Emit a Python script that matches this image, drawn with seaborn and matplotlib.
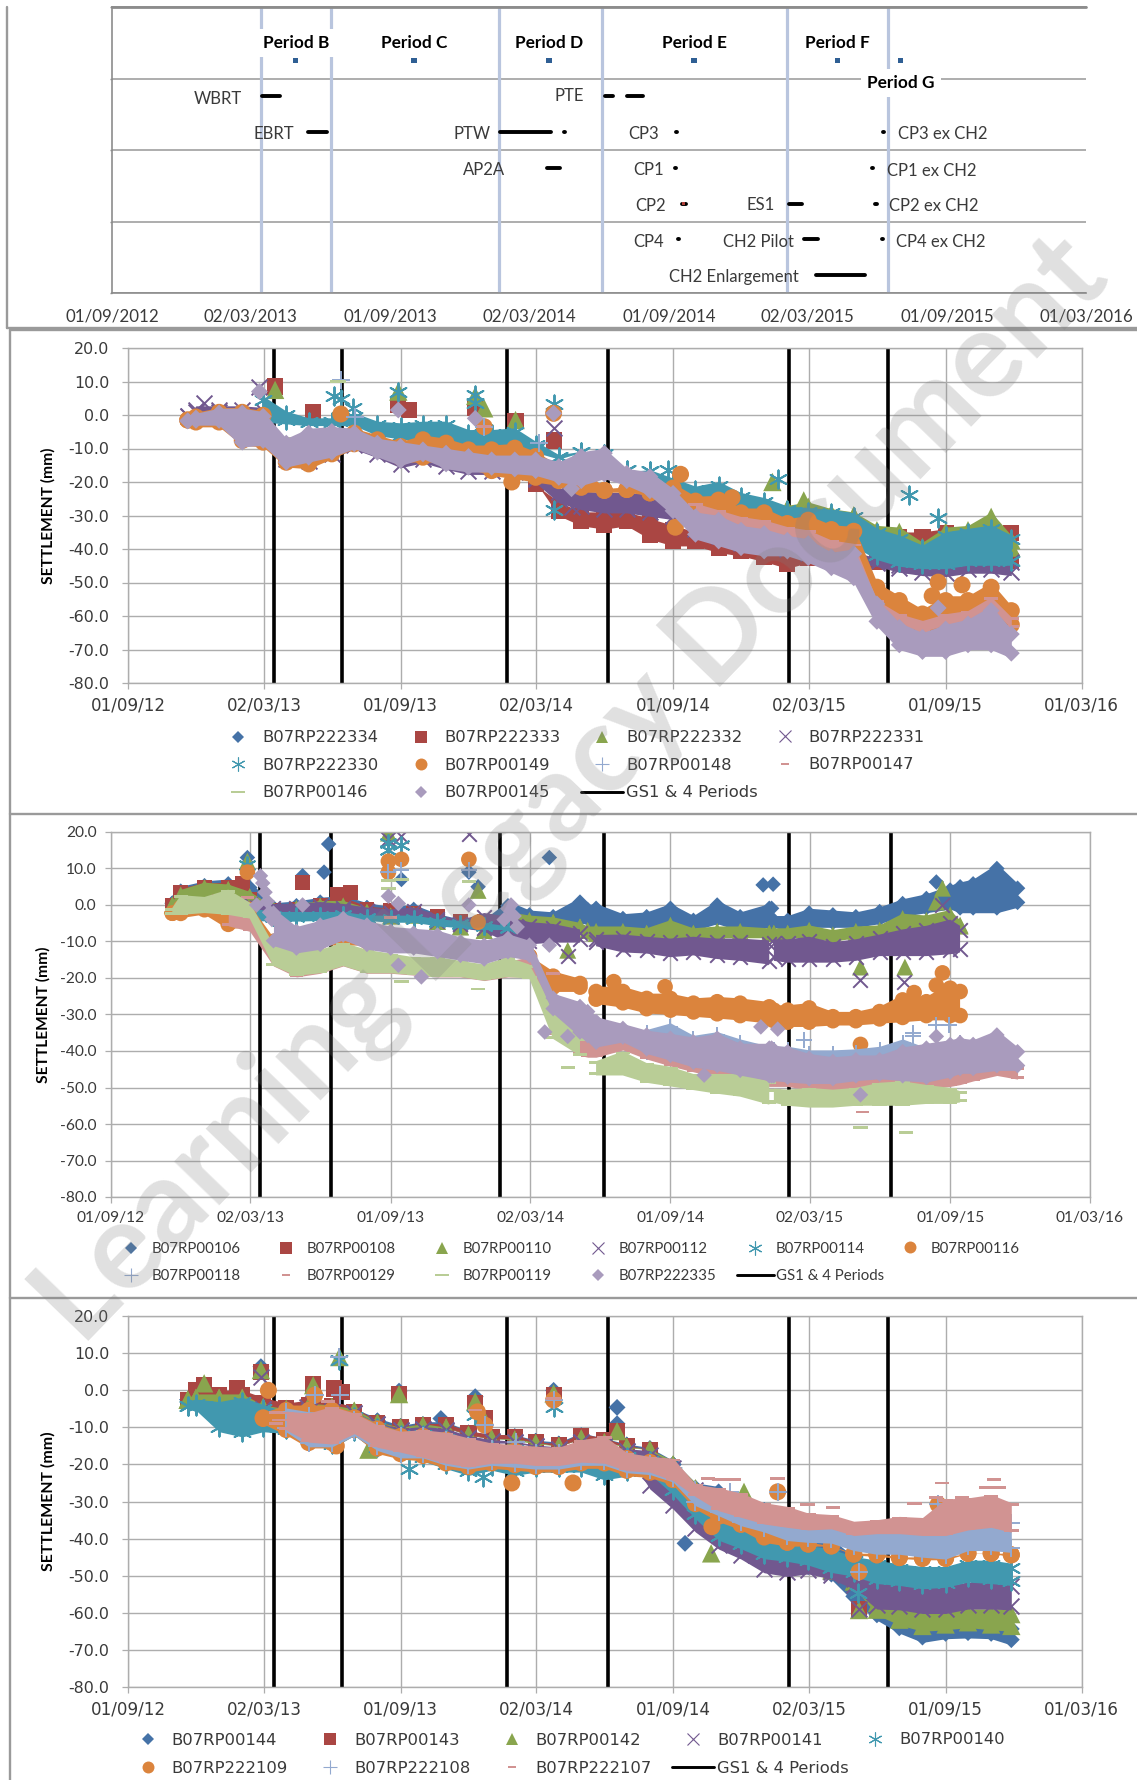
import numpy as np
import pandas as pd
import matplotlib
matplotlib.use("Agg")
import matplotlib.pyplot as plt
from matplotlib.lines import Line2D
from matplotlib.path import Path
import seaborn as sns

_ = np.nan
# x values are days since 01/09/2012
X_TICKS = [0, 182, 365, 547, 730, 912, 1095, 1277]
X_LABELS_LONG = ["01/09/2012", "02/03/2013", "01/09/2013", "02/03/2014", "01/09/2014", "02/03/2015", "01/09/2015", "01/03/2016"]
X_LABELS = ["01/09/12", "02/03/13", "01/09/13", "02/03/14", "01/09/14", "02/03/15", "01/09/15", "01/03/16"]
Y_TICKS = [20, 10, 0, -10, -20, -30, -40, -50, -60, -70, -80]
PERIOD_DAYS = [195, 287, 507, 643, 885, 1018]

# ---------- programme panel ----------
PERIOD_NAMES = ["Period B", "Period C", "Period D", "Period E", "Period F", "Period G"]
PERIOD_MID = [241, 396, 573, 763, 951, 1034]
PERIOD_ROW = [3.25, 3.25, 3.25, 3.25, 3.25, 3.25]
ACT_START = [197, 647, 675, 257, 509, 593, 740, 1011, 570, 738, 997, 747, 887, 1001, 742, 907, 1009.5, 923]
ACT_END   = [220, 657, 696, 282, 575, 594, 741, 1012, 587, 739, 998, 752, 904, 1003, 743, 925, 1011.5, 987]
ACT_ROW   = [2.75, 2.75, 2.75, 2.25, 2.25, 2.25, 2.25, 2.25, 1.75, 1.75, 1.75, 1.25, 1.25, 1.25, 0.75, 0.75, 0.75, 0.25]
ACT_NAMES = ["WBRT", "PTE", "EBRT", "PTW", "CP3", "CP3 ex CH2", "AP2A", "CP1", "CP1 ex CH2", "CP2", "ES1", "CP2 ex CH2", "CP4", "CH2 Pilot", "CP4 ex CH2", "CH2 Enlargement"]
ACT_NAME_X = [139, 599, 212, 472, 697, 1089, 488, 704, 1075, 706, 851, 1077, 704, 847, 1086, 815]
ACT_NAME_ROW = [2.72, 2.75, 2.22, 2.22, 2.22, 2.22, 1.72, 1.72, 1.71, 1.21, 1.23, 1.21, 0.72, 0.71, 0.71, 0.23]

# ---------- panel 1 ----------
P1_DAYS = [80,91,122,153,181,212,242,273,303,334,365,395,426,456,487,518,546,577,607,638,668,699,730,760,791,821,852,883,911,942,972,1003,1033,1064,1095,1125,1156,1183]
P1_145_T = [-0.5,1.5,3,3,2,-6,-3,-2.5,-3,-6,-7,-8,-9,-10,-11,-11,-11,-13,-10,-9,-15,-16,-21,-28,-29,-32,-33,-35,-36,-40,-39,-54,-61,-64,-61.5,-60,-56,-63]
P1_145_B = [-3,-4,-4,-10.5,-10,-16.5,-15,-13.5,-11,-13.5,-16,-14,-17,-18,-18,-18.5,-19,-21,-22,-20,-22,-25,-31,-38,-40,-42,-43,-43,-45,-48,-51,-64,-71,-73,-73,-71,-71,-73.5]
P1_149_T = [-0.5,1.8,3.2,3.2,2.3,-10,-8,-8,-3,-5,-7,-5,-6,-8,-8,-7.5,-10,-14,-14,-21,-20.5,-21.5,-19.4,-23.3,-23,-26.8,-26.8,-30,-29,-31.8,-32.3,-49,-53,-57,-53,-53,-49,-56]
P1_149_B = [-2.5,-4.5,-4.5,-10,-10.5,-16.5,-17,-14,-11,-12,-15,-15,-15,-17,-19,-20,-21,-22,-24,-24,-24,-25,-25,-30,-31,-34,-35,-37,-38,-42,-42,-57,-64,-66,-64,-63,-60,-65]
P1_147_T = [_]*23 + [-26,-28,-30,-31,-33,-34,-37,-38,-55,-59,-61,-59,-58,-54,-60]
P1_147_B = [_]*23 + [-30,-32,-34,-35,-37,-38,-41,-42,-59,-63,-65,-63,-62,-58,-64]
P1_330_T = [_,_,_,_,6.5,2,0,0,1.5,-1,-1.5,-1,-1,-3.5,-3.5,-3,-7,-11,-10,-11,-16,-15.5,-18,-20.4,-19,-22.3,-23.8,-26.3,-26.8,-27.3,-28.3,-33,-35,-38,-34,-33,-32,-35]
P1_330_B = [_,_,_,_,-3,-3.5,-4,-4,-4,-7,-8,-9,-10,-11,-12,-12,-12,-14,-12,-12,-17,-18,-23,-30,-30,-33,-34,-36,-37,-41,-40,-44,-46,-46.7,-46.7,-45.7,-45.7,-45.7]
P1_331_T = [0.5,3.5,3.5,3.5,3,-8,-7,-6,-5,-7,-9,-9,-10,-11,-12,-13,-17,-21,-22,-22.3,-22.3,-23,-25,-30,-32,-34,-36,-37,-38,-40,-40,-42,-43,-43,-43,-42,-42,-42]
P1_331_B = [-1,-1,-1,-5,-5,-15,-15.5,-13.5,-11,-13.5,-16.5,-15,-17,-18.5,-18.5,-19,-21,-27,-29,-30,-30,-31,-32,-36,-38,-40,-41,-42,-43,-44,-45,-46,-47.7,-48.7,-49,-48,-48,-48.7]
P1_333_T = [_]*16 + [-20,-25,-28,-28,-28,-30,-32,-34,-34,-36,-37,-38,-40,-38,-40,-42,-34,-34,-33,-34,-34,-33]
P1_333_B = [_]*16 + [-21,-31,-34,-35,-34,-38,-40,-40,-42,-43,-44.7,-46.7,-45,-46,-46,-46,-46,-46,-46,-46,-46,-46]
P1_332_T = [_]*27 + [-26,-25,-27,-28,-32,-32.5,-37,-32.5,-32,-28,-35]
P1_332_B = [_]*27 + [-30,-30,-32,-32,-38,-38,-42,-38,-38,-36,-42]
P1_NONE = [_]*38
# isolated readings
P1O_333_X = [197,248,362,376,465,519,570]; P1O_333_Y = [8.5,1,3,1.5,2,-1.7,-7.6]
P1O_332_X = [197,362,465,477,519,863,905]; P1O_332_Y = [7.5,7,5.7,2,-1.5,-20,-25.5]
P1O_331_X = [176,102,570,594]; P1O_331_Y = [8.5,3.5,-4,-27.5]
P1O_330_X = [276,285,302,362,465,465,570,570,723,870,1046,1085]; P1O_330_Y = [5.7,4.7,2,7,6,3.5,3.3,-28.3,-16.4,-19.2,-23.8,-30.8]
P1O_149_X = [285,477,514,570,740,809,733,1085,1117,1077]; P1O_149_Y = [0.3,-3.5,-20,0.5,-17.7,-24.7,-33.5,-49.9,-50.7,-54]
P1O_148_X = [304,477,550,285]; P1O_148_Y = [-0.7,-3.5,-8.4,10.5]
P1O_147_X = [477]; P1O_147_Y = [-3.5]
P1O_146_X = [281,215,212,220]; P1O_146_Y = [10,-7,-8,-8.7]
P1O_145_X = [176,362,465,570,594,1085]; P1O_145_Y = [7,1.5,-1,0.5,-22,-57.6]

# ---------- panel 2 ----------
P2_DAYS = [80,91,122,153,181,212,242,273,303,334,365,395,426,456,487,518,546,577,612,622,633,668,699,730,760,791,821,859,862,865,883,911,942,972,1003,1033,1064,1095,1108,1125,1156,1183]
P2_106_T = [2,6,7.5,8,7,1.5,2,3,3.5,1.5,0.5,1,-1.5,-3,-3,2,-0.5,-1,3,1,1.3,-1.5,-1,1.3,-2,2.2,-1,1.3,1.3,-2,-2,0,-0.5,-1,0.4,2.6,4,6.3,7.2,8,12.2,6.8]
P2_106_B = [-1,0,1,1,0,-4,-3,-2,-2,-3,-4,-4,-6,-7,-8,-5,-6,-7,-6,-6,-8,-8,-8,-7,-8,-6,-8,-7,-7,-7,-8,-7,-7,-7,-6,-4,-3,-2,-3,-3,-3,-1.5]
P2_108_T = [1,5.5,7,7,3,0,0.5,2,3,0.5,0,-0.5,-2,-4,-4] + [_]*27
P2_108_B = [-1,0,1,1,0,-3,-3,-2,-1,-3,-3,-4,-4,-5,-5] + [_]*27
P2_110_T = [1,5,7,6.5,4.5,0.5,1,2,2,0,-1,-0.5,-3,-5,-6,-1,-2,-2.5,-4,-5,-5,-5,-5.5,-3.3,-5.5,-5,-5,-5.5,_,-5.5,-5.5,-4.7,-6,-5,-4.7,-1.5,-2,-0.5,-3.3,_,_,_]
P2_110_B = [-1,0,2,2,0,-3,-3,-3,-3,-4,-5,-5,-6,-7,-8,-6,-7,-7,-8,-9,-10,-10,-10,-10,-10,-10,-10,-10,_,-10,-10,-10,-11,-10,-10,-9,-8,-8,-8,_,_,_]
P2_112_T = [_,_,_,_,2,1,1,1.5,1,0,-0.5,0,-2,-3.5,-1.5,-2.5,-4,-4.5,-6,_,-7.5,-7.4,-8,-8.5,-8,-8.5,-8.5,-9,_,-8.7,-8.7,-8,-9.5,-8.7,-7.4,-6,-5,-3.3,-5,_,_,_]
P2_112_B = [_,_,_,_,-2,-3.5,-3.5,-3.5,-3,-3.5,-4,-4.5,-6,-7,-8,-11,-11.5,-11,-11,_,-12,-13.7,-14,-15,-14.5,-15.5,-16,-17,_,-16,-16.5,-16.5,-16.5,-16,-14.7,-14.7,-14.7,-14.2,-13.7,_,_,_]
P2_114_T = [_,_,_,_,0,-1,-1,-1,-1,-2,-2,-2,-3,-3.5,-4,-5] + [_]*26
P2_114_B = [_,_,_,_,-5,-5.2,-5.2,-5,-4.5,-5,-5.5,-5.5,-6.5,-7,-7.5,-7.5] + [_]*26
P2_116_T = [-1,1.5,2,2.5,1,-8,-8,-8,-8,-8,-9,-9,-10,-10,-10,-9,-13,-17.3,-19.3,_,-21.5,-21.5,-23.4,-23.4,-24.7,-24.3,-24.7,-25.7,_,-26.6,-26.6,-26,-28.4,-28.4,-27,-23.8,-24.3,-20.6,-21.5,_,_,_]
P2_116_B = [-3.5,-4.5,-3.5,-7.5,-7,-12,-12,-12,-12,-12,-13,-13,-14,-14,-15,-15,-15,-24.7,-24.7,_,-28,-29,-30.6,-31,-31.5,-32,-32.5,-33.4,_,-33.9,-34.3,-34.3,-33.9,-33.9,-33.4,-33,-32.5,-32.5,-32.5,_,_,_]
P2_118_T = [_]*22 + [-33.4,-31.6,-35,-34,-36,-38,-38,-38,-38,-39,-39,-38.7,-38,-36,-38.4,-37,-36,_,_,_]
P2_118_B = [_]*22 + [-42,-43,-44,-45,-45,-46,-46,-46,-46,-46,-46,-46,-46,-45,-45,-45,-45,_,_,_]
P2_129_T = [_,_,_,-1,-3,-12,-13,-12,-10,-13,-14,-14,-15,-16,-17,-15,-14,-28,-35,-36,-37,-37,-40,-41,-42,-43,-44,-46,-46,-46,-46,-47,-47,-46,-46,-46,-46,-45,-45,-44,-43,-44]
P2_129_B = [_,_,_,-6,-7.5,-17,-20,-19,-17,-19,-19,-19.5,-20,-20,-21,-20,-20,-36,-41.5,-42,-42,-40,-42.5,-44.4,-46,-47.5,-49,-50,-50,-50,-50,-51,-51,-51,-50.7,-50.7,-50.7,-50,-49.5,-48.5,-47,-48]
P2_119_T = [-0.5,3,2.5,4.5,1,-10.5,-12,-12,-10,-12,-13,-14,-14,-15,-16,-14,-16,-28,-36,_,-42.5,-39.8,-43,-44,-46,-46,-46,-48,_,-50,-50.3,-49.8,-50.3,-49.8,-48.4,-48,-49,-49.8,-50.7,_,_,_]
P2_119_B = [-3,-3,-2.5,-3,-4,-17,-19.7,-19,-17,-19,-19,-19.5,-20,-20,-21,-20,-20.5,-37,-41.6,_,-47,-47,-49,-50,-51,-52,-52.8,-55,_,-54.5,-55.3,-55.8,-55.8,-55.3,-55.3,-55.3,-54.8,-54.8,-54.4,_,_,_]
P2_335_T = [_,_,_,_,_,0,-5,-3.3,-1.5,-3.3,-5,-5.5,-6,-7.9,-8.8,-7,-8.8,-23.3,-25.6,-27,-29.7,-31.6,-33.4,-34.3,-35.3,-34.3,-37,-37,-37,-37.5,-38,-39.8,-40.7,-40.2,-40.2,-38,-37,-36,-35.5,-36,-33.4,-38]
P2_335_B = [_,_,_,_,_,-12,-14,-13,-10.4,-13,-14,-14,-15,-16,-17,-15,-16,-30.6,-37,-38,-39.8,-38.4,-41.6,-43.4,-45.3,-46.2,-47.5,-49,-49,-49,-49.4,-49.8,-49.8,-49,-48.5,-49,-49.4,-48,-47,-47,-46.2,-46.2]
P2O_106_X = [178,250,278,284,379,467,479,572,851,864,1077]; P2O_106_Y = [13,8,9,16.7,7,9,5,13,5.5,5.7,6.3]
P2O_108_X = [172,250,295,312]; P2O_108_Y = [6,6.2,3,3.5]
P2O_110_X = [178,362,479,596,978,1036,1085,1077]; P2O_110_Y = [12,19.7,4,-12.4,-17,-17,4.6,0.8]
P2O_112_X = [362,379,467,596,978,1035,1085]; P2O_112_Y = [18,19,19.5,-14,-20.6,-21.2,0]
P2O_114_X = [178,362,362,379]; P2O_114_Y = [11,15,17,16.5]
P2O_116_X = [178,362,362,379,467,479,656,723,978,1085,1077,1048]; P2O_116_Y = [9,12,9,12.5,12.5,-4.7,-21,-22.4,-38.2,-18.6,-22,-24]
P2O_118_X = [362,379,467,405,904,1047,1047,1077,1093]; P2O_118_Y = [9,9.5,9.5,-19,-37,-35,-36,-33,-33]
P2O_129_X = [365,178,577,981]; P2O_129_Y = [-3.5,2,-18.8,-56.7]
P2O_119_X = [362,362,379,467,379,479,596,978,1037]; P2O_119_Y = [6.8,4.5,7,6.4,-21,-23,-44.6,-61,-62.4]
P2O_335_X = [195,198,201,204,207,210,513,518,522,526,530,362,250,375,467,190,375,405,572,566,596,848,870,774,978,1077]
P2O_335_Y = [8,6,3.5,1,-2,-4,-4,-1,0,-3,-6,2.4,0,0.4,0,0,-16.5,-19.7,-11,-34.8,-36,-33.4,-34,-46.6,-52,-36]

# ---------- panel 3 (same dates as panel 1) ----------
P3_144_T = [-1,1,0.5,1,-2,-3,-2.5,-3,-4,-6.5,-8.5,-7.5,-7.5,-10,-11,-11,-12.5,-13,-10.5,-12,-13.5,-14.5,-18,-24,-25,-28,-30,-33,-36,-39,-44,-55,-58,-62,-62,-62,-62,-62]
P3_144_B = [-4,-4,-4,-4,-6,-7,-7,-7,-8,-10,-11,-11,-11,-13,-14,-14,-15,-16,-14,-15,-16,-17,-22,-30,-36,-40,-45,-48,-50,-52,-58,-63,-66.5,-69,-68,-67.8,-68,-69.7]
P3_143_T = [-1.5,2.5,1,1,-1,-2.5,-1.7,-2,-3.5,-7.5,-9,-8,-8,-10,-11,-11,-13,-13.4,-10.7,-12,-13.9,-15] + [_]*16
P3_143_B = [-4,-4,-4,-4,-6,-7,-7,-7,-8,-10,-11,-11,-11,-13,-14,-14,-15,-16,-14,-15,-16,-17] + [_]*16
P3_142_T = [-1,0,0,0,-3,-4,-2.5,-3,-4,-7.5,-9,-8,-9,-11,-12,-12.5,-13.5,-14,-12,-13,-14.5,-15,-18,-24,-30,-35,-38,-42,-44,-45,-47,-55,-57,-58,-58,-58,-58,-58]
P3_142_B = [-4,-4,-4,-4,-6,-6,-6,-6,-7,-10,-11,-11,-11,-13,-14,-14,-15,-16,-14,-15,-16,-17,-22,-30,-37,-40,-44,-47,-49,-51,-54,-61.6,-64.3,-66,-65.6,-65,-65.6,-66]
P3_141_T = [_,_,_,_,-4,-5,-4,-4,-5,-8,-9.5,-9,-9.5,-11.5,-12.5,-13,-14,-14.5,-13,-14,-15,-15.5,-19,-25,-31,-36,-40,-43,-45,-47,-49,-50,-51,-52,-52,-51,-51,-51]
P3_141_B = [_,_,_,_,-6,-8,-7,-7,-7,-10,-12,-12,-12,-14,-15,-15,-16,-17,-15,-16,-17.5,-27.4,-32.8,-39,-43.6,-46.3,-50,-51,-50.3,-51.7,-54.4,-59.8,-60,-61,-61,-59.8,-59.8,-60]
P3_140_T = [-2,-1.5,-2.2,-1,-3,-5,-5,-5,-5,-8,-10,-10,-11,-13,-14,-14,-15,-15,-14,-14,-16,-17,-20,-27,-30,-33,-37,-40,-41,-42,-44,-45,-46,-46.7,-46.7,-45,-45,-45.8]
P3_140_B = [-6.2,-6.2,-12,-13.4,-12,-12.5,-13.9,-16.5,-13,-17.5,-18.4,-20,-22,-23.8,-22.4,-23.8,-22.9,-22.9,-22.9,-25,-24,-23.4,-29,-35.5,-41.3,-43.6,-46.3,-47,-48,-50,-51,-53,-53.5,-54.4,-54,-52.6,-53,-53.5]
P3_109_T = [_,_,_,_,-5,-3,-3,-3,-5,-8,-10,-10,-11,-13,-14,-14,-15,-15,-14,-14,-16,-17,-20,-25,-30,-33,-36,-39,-40,-41,-43,-43,-44,-44,-44,-43,-43,-43]
P3_109_B = [_,_,_,_,-10,-13,-16.5,-16.5,-13,-18,-19.5,-20,-22,-23,-22,-22.5,-23,-23,-22,-22,-24,-24.5,-26.5,-33,-36.4,-38.6,-42,-43,-43,-43,-45.4,-45.8,-46.3,-46.7,-46.7,-45,-45,-45.8]
P3_108_T = [_,_,_,_,_,-4,-5,-5,-6,-9,-10.5,-10.5,-11.5,-13,-14,-14,-15,-15,-14,-14,-17,-18,-19,-25,-28,-30,-33,-34,-35,-35,-37,-37,-36,-36,-32,-32,-31,-34]
P3_108_B = [_,_,_,_,_,-12,-16,-16,-13,-17,-19,-19,-21,-22,-21,-21.5,-22,-22,-21,-21,-23,-23.5,-25.5,-31.9,-34.6,-37.3,-39,-41.3,-41.8,-42,-44,-45,-45,-45.8,-46.3,-44,-44,-44.5]
P3_107_T = [_,_,_,_,_,-5.3,-5.8,-4,-5.8,-9,-10.7,-10.3,-11,-12.5,-13.9,-14.3,-14.8,-15,-13,-12,-16.5,-17.5,-18,-25,-26,-27.4,-30,-31,-32.8,-33.2,-35,-34.6,-33.7,-34,-29,-28.7,-27.8,-30]
P3_107_B = [_,_,_,_,_,-11,-14.3,-14.8,-12,-15.7,-17,-18.4,-20,-21,-20,-20,-20.6,-20.6,-19.7,-20,-22,-22.4,-24.7,-29,-32.8,-34.6,-36.4,-37.3,-38,-37.7,-39.5,-39,-39,-39.5,-39.5,-38,-37.3,-38.6]
P3O_144_X = [178,363,465,419,570,655,655,746]; P3O_144_Y = [6.4,-0.2,-1.7,-7.6,0,-4.6,-9,-41.3]
P3O_143_X = [102,146,178,248,276,286,363,465,478,570,655,979]; P3O_143_Y = [1.5,0.5,5,1.6,0.5,-0.4,-1,-3.5,-7.6,-1.3,-11,-59]
P3O_142_X = [102,178,248,283,322,363,465,475,570,655,825,781,979]; P3O_142_Y = [1.9,5.5,1.4,9,-16,-1,-3,-7,-0.8,-11,-27.4,-44,-59.3]
P3O_141_X = [178,979,240,248]; P3O_141_Y = [3.7,-59,-4.5,-3.5]
P3O_140_X = [283,377,475,570,978,465]; P3O_140_Y = [8.2,-21.2,-23.3,-4.4,-54.6,-6.7]
P3O_109_X = [188,250,279,468,478,514,570,596,782,870,979,1085]; P3O_109_Y = [0,-1.3,-15,-5.8,-9.4,-25,-2.6,-25,-36.8,-27.4,-49,-30.8]
P3O_108_X = [283,284,250,478,570,979,1085,870,806,519]; P3O_108_Y = [9,-1.3,-1.3,-9.4,-2.6,-49,-30.8,-27.4,-27.4,-13.9]
P3O_107_X = [198,203,198,465,570,268,777,792,811,870,910,944,1053,1090,1160,1149,1166,1082,1117]; P3O_107_Y = [-6,-8,-9,-5.3,-2.2,-3,-23.8,-24,-24,-23.8,-30.8,-31.5,-30.5,-25,-24,-26.2,-26.2,-29,-29]

# ---------- styles ----------
BLUE, RED, GREEN, PURPLE, TEAL, ORANGE = "#4572A7", "#AA4643", "#89A54E", "#71588F", "#4198AF", "#DB843D"
LBLUE, PINK, SAGE, LILAC = "#93A9CF", "#D19392", "#B9CD96", "#A99BBD"
DASH_LONG = Path([(-1, -.2), (1, -.2), (1, .2), (-1, .2), (-1, -.2)])
DASH_SHORT = Path([(-1, -.3), (1, -.3), (1, .3), (-1, .3), (-1, -.3)])
STAR = (6, 2, 0)
ST = {
    "diamond": dict(marker="D", s=74, filled=True, half=2.4, ms=6.2),
    "square": dict(marker="s", s=135, filled=True, half=2.3, ms=8.6),
    "tri": dict(marker="^", s=175, filled=True, half=2.4, ms=9),
    "x": dict(marker="x", s=130, filled=False, half=1.9, ms=9),
    "star": dict(marker=STAR, s=170, filled=False, half=2.1, ms=10),
    "circle": dict(marker="o", s=150, filled=True, half=2.4, ms=8.6),
    "plus": dict(marker="+", s=170, filled=False, half=1.9, ms=10.5),
    "dashs": dict(marker=DASH_LONG, s=110, filled=True, half=0.8, ms=6, hmarker=DASH_SHORT),
    "dashl": dict(marker=DASH_LONG, s=125, filled=True, half=0.8, ms=9.6),
}

sns.set_theme(style="white")
plt.rcParams["font.family"] = ["DejaVu Sans"]
W, H = 1137, 1780
fig = plt.figure(figsize=(W / 100, H / 100), dpi=100, facecolor="white")
GRID = "#ADADAD"
TXT = "#3A3A3A"


def new_axes(l, t, r, b):
    return fig.add_axes([l / W, 1 - b / H, (r - l) / W, (b - t) / H])


def frame_line(x0, y0, x1, y1, color="#9A9A9A", lw=1.7):
    fig.add_artist(Line2D([x0 / W, x1 / W], [1 - y0 / H, 1 - y1 / H], transform=fig.transFigure,
                          color=color, lw=lw, zorder=5))


def draw_series(ax, days, top, bot, ox, oy, color, style, z, scale):
    st = ST[style]
    half = st["half"] * scale
    days = np.asarray(days, float)
    t = np.asarray(top, float)
    b = np.asarray(bot, float)
    tc = t - half
    bc = b + half
    cross = tc < bc
    mid = (t + b) / 2
    tc = np.where(cross, mid, tc)
    bc = np.where(cross, mid, bc)
    ax.fill_between(days, t - half * .4, b + half * .4, color=color, linewidth=0, zorder=z)
    xs = np.r_[days, days, np.asarray(ox, float)]
    ys = np.r_[tc, bc, np.asarray(oy, float)]
    keep = ~np.isnan(ys)
    if keep.sum() == 0:
        return
    kw = dict(marker=st["marker"], s=st["s"] * scale ** 2, color=color, zorder=z, ax=ax, legend=False)
    if st["filled"]:
        kw.update(linewidth=0, edgecolor="none")
    else:
        kw.update(linewidth=1.4)
    sns.scatterplot(x=xs[keep], y=ys[keep], **kw)


def setup_axes(ax, font, fs, ypad, ylab_x, xfs, ylab_fs=11.2):
    ax.set_xlim(0, 1277)
    ax.set_ylim(-80, 20)
    ax.set_xticks(X_TICKS, X_LABELS, family=font, fontsize=xfs, color=TXT)
    ax.set_yticks(Y_TICKS, [f"{v:.1f}" for v in Y_TICKS], family=font, fontsize=fs, color=TXT)
    ax.grid(True, color=GRID, lw=1.0, zorder=0)
    ax.set_axisbelow(True)
    ax.tick_params(axis="both", length=4.5, width=0.9, color=GRID, left=True, bottom=True)
    ax.tick_params(axis="y", pad=ypad)
    ax.tick_params(axis="x", pad=5.5)
    for s in ax.spines.values():
        s.set_color(GRID)
        s.set_linewidth(1.0)
    ax.vlines(PERIOD_DAYS, -80, 20, color="black", lw=2.6, zorder=1.5)
    ax.set_xlabel("")
    ax.set_ylabel("")
    mid = ax.get_position()
    fig.text(ylab_x / W, (mid.y0 + mid.y1) / 2, "SETTLEMENT (mm)", rotation=90, va="center", ha="center",
             family="Lato", weight="bold", fontsize=ylab_fs, color="black")


def handle(color, style):
    if style == "line":
        return Line2D([], [], color="black", lw=2.1)
    st = ST[style]
    m = st.get("hmarker", st["marker"])
    return Line2D([], [], linestyle="none", marker=m, markersize=st["ms"], color=color,
                  markeredgewidth=0.8 if not st["filled"] else 0, fillstyle="full")


def column_legend(x_marker, rows_y, entries, font, fs, handle_px, text_gap_px, row_gap_px):
    fs_px = fs * 100 / 72
    hs = [handle(c, s) for (_n, c, s) in entries]
    ls = [n for (n, _c, _s) in entries]
    y = np.mean(rows_y[:len(entries)])
    fig.legend(hs, ls, loc="center left", bbox_to_anchor=((x_marker - handle_px / 2) / W, 1 - y / H),
               ncol=1, frameon=False, borderpad=0, borderaxespad=0, numpoints=1,
               handlelength=handle_px / fs_px, handletextpad=text_gap_px / fs_px,
               labelspacing=(row_gap_px - fs_px * 0.95) / fs_px,
               prop={"family": font, "size": fs}, labelcolor=TXT)


# ---------- programme panel ----------
ax0 = new_axes(112, 7, 1086, 293)
ax0.set_xlim(0, 1277)
ax0.set_ylim(0, 4)
ax0.set_xticks(X_TICKS, X_LABELS_LONG, family="Lato", fontsize=12.2, color=TXT)
ax0.set_yticks([0, 1, 2, 3, 4], [""] * 5)
ax0.tick_params(axis="x", direction="inout", length=9, width=1, color="#8C8C8C", pad=7)
ax0.tick_params(axis="y", direction="out", length=1.5, width=1, color="#8C8C8C", left=True)
ax0.grid(True, axis="y", color="#A0A0A0", lw=1.2, zorder=0)
ax0.set_axisbelow(True)
for k, s in ax0.spines.items():
    s.set_color("#8C8C8C")
    s.set_linewidth(1.2)
ax0.spines["right"].set_visible(False)
ax0.vlines(PERIOD_DAYS, 0, 4, color="#B9C5DE", lw=2.3, zorder=1)
ax0.hlines(ACT_ROW, ACT_START, ACT_END, color="black", lw=2.8, zorder=3, capstyle="round")
sns.scatterplot(x=PERIOD_MID, y=PERIOD_ROW, marker="s", s=14, color="#2F5F94", linewidth=0, edgecolor="none",
                zorder=3, ax=ax0, legend=False)
sns.scatterplot(x=[749.5], y=[1.25], marker="s", s=7, color="#B0403A", linewidth=0, edgecolor="none",
                zorder=4, ax=ax0, legend=False)
for name, d, row in zip(PERIOD_NAMES, PERIOD_MID, PERIOD_ROW):
    y = 3.5 if name != "Period G" else 2.94
    pad = 4.5
    ax0.text(d, y, name, ha="center", va="center", family="Lato", weight="bold", fontsize=12.4, color="black",
             zorder=5, bbox=dict(facecolor="white", edgecolor="none", pad=pad))
for name, d, row in zip(ACT_NAMES, ACT_NAME_X, ACT_NAME_ROW):
    ax0.text(d, row, name, ha="center", va="center", family="Lato", fontsize=12, color=TXT, zorder=5)
ax0.set_xlabel("")
ax0.set_ylabel("")

# ---------- panel 1 ----------
ax1 = new_axes(128, 348, 1081.5, 683)
P1 = [
    (P1_NONE, P1_NONE, [], [], BLUE, "diamond"),
    (P1_333_T, P1_333_B, P1O_333_X, P1O_333_Y, RED, "square"),
    (P1_332_T, P1_332_B, P1O_332_X, P1O_332_Y, GREEN, "tri"),
    (P1_331_T, P1_331_B, P1O_331_X, P1O_331_Y, PURPLE, "x"),
    (P1_330_T, P1_330_B, P1O_330_X, P1O_330_Y, TEAL, "star"),
    (P1_149_T, P1_149_B, P1O_149_X, P1O_149_Y, ORANGE, "circle"),
    (P1_NONE, P1_NONE, P1O_148_X, P1O_148_Y, LBLUE, "plus"),
    (P1_147_T, P1_147_B, P1O_147_X, P1O_147_Y, PINK, "dashs"),
    (P1_NONE, P1_NONE, P1O_146_X, P1O_146_Y, SAGE, "dashl"),
    (P1_145_T, P1_145_B, P1O_145_X, P1O_145_Y, LILAC, "diamond"),
]
for i, (t, b, ox, oy, c, st) in enumerate(P1):
    draw_series(ax1, P1_DAYS, t, b, ox, oy, c, st, 2 + i * .1, 1.0)
setup_axes(ax1, "DejaVu Sans", 11.4, 9, 48.6, 12.1)

# ---------- panel 2 ----------
ax2 = new_axes(111, 832, 1089.6, 1197)
P2 = [
    (P2_106_T, P2_106_B, P2O_106_X, P2O_106_Y, BLUE, "diamond"),
    (P2_108_T, P2_108_B, P2O_108_X, P2O_108_Y, RED, "square"),
    (P2_110_T, P2_110_B, P2O_110_X, P2O_110_Y, GREEN, "tri"),
    (P2_112_T, P2_112_B, P2O_112_X, P2O_112_Y, PURPLE, "x"),
    (P2_114_T, P2_114_B, P2O_114_X, P2O_114_Y, TEAL, "star"),
    (P2_116_T, P2_116_B, P2O_116_X, P2O_116_Y, ORANGE, "circle"),
    (P2_118_T, P2_118_B, P2O_118_X, P2O_118_Y, LBLUE, "plus"),
    (P2_129_T, P2_129_B, P2O_129_X, P2O_129_Y, PINK, "dashs"),
    (P2_119_T, P2_119_B, P2O_119_X, P2O_119_Y, SAGE, "dashl"),
    (P2_335_T, P2_335_B, P2O_335_X, P2O_335_Y, LILAC, "diamond"),
]
for i, (t, b, ox, oy, c, st) in enumerate(P2):
    draw_series(ax2, P2_DAYS, t, b, ox, oy, c, st, 2 + i * .1, 0.92)
setup_axes(ax2, "Lato", 11.2, 6, 43, 11.2)

# ---------- panel 3 ----------
ax3 = new_axes(128, 1316.3, 1081.5, 1686.7)
P3 = [
    (P3_144_T, P3_144_B, P3O_144_X, P3O_144_Y, BLUE, "diamond"),
    (P3_143_T, P3_143_B, P3O_143_X, P3O_143_Y, RED, "square"),
    (P3_142_T, P3_142_B, P3O_142_X, P3O_142_Y, GREEN, "tri"),
    (P3_141_T, P3_141_B, P3O_141_X, P3O_141_Y, PURPLE, "x"),
    (P3_140_T, P3_140_B, P3O_140_X, P3O_140_Y, TEAL, "star"),
    (P3_109_T, P3_109_B, P3O_109_X, P3O_109_Y, ORANGE, "circle"),
    (P3_108_T, P3_108_B, P3O_108_X, P3O_108_Y, LBLUE, "plus"),
    (P3_107_T, P3_107_B, P3O_107_X, P3O_107_Y, PINK, "dashs"),
]
for i, (t, b, ox, oy, c, st) in enumerate(P3):
    draw_series(ax3, P1_DAYS, t, b, ox, oy, c, st, 2 + i * .1, 1.0)
setup_axes(ax3, "DejaVu Sans", 11.4, 9, 48.6, 12.1, 11.4)

# ---------- legends (one per column, as laid out in the reference) ----------
R1 = [737, 765.5, 793.5]
for mx, entries in [
    (238, [("B07RP222334", BLUE, "diamond"), ("B07RP222330", TEAL, "star"), ("B07RP00146", SAGE, "dashl")]),
    (420.6, [("B07RP222333", RED, "square"), ("B07RP00149", ORANGE, "circle"), ("B07RP00145", LILAC, "diamond")]),
    (602, [("B07RP222332", GREEN, "tri"), ("B07RP00148", LBLUE, "plus"), ("GS1 & 4 Periods", "black", "line")]),
    (784.5, [("B07RP222331", PURPLE, "x"), ("B07RP00147", PINK, "dashs")]),
]:
    column_legend(mx, R1, entries, "DejaVu Sans", 11.8, 42, 3, 28)

R2 = [1248.7, 1276]
for mx, entries in [
    (131, [("B07RP00106", BLUE, "diamond"), ("B07RP00118", LBLUE, "plus")]),
    (286, [("B07RP00108", RED, "square"), ("B07RP00129", PINK, "dashs")]),
    (442, [("B07RP00110", GREEN, "tri"), ("B07RP00119", SAGE, "dashl")]),
    (598, [("B07RP00112", PURPLE, "x"), ("B07RP222335", LILAC, "diamond")]),
    (755, [("B07RP00114", TEAL, "star"), ("GS1 & 4 Periods", "black", "line")]),
    (910, [("B07RP00116", ORANGE, "circle")]),
]:
    column_legend(mx, R2, entries, "Lato", 10.8, 37, 2, 27.3)

R3 = [1740, 1768.3]
for mx, entries in [
    (147.7, [("B07RP00144", BLUE, "diamond"), ("B07RP222109", ORANGE, "circle")]),
    (330, [("B07RP00143", RED, "square"), ("B07RP222108", LBLUE, "plus")]),
    (511.7, [("B07RP00142", GREEN, "tri"), ("B07RP222107", PINK, "dashs")]),
    (693, [("B07RP00141", PURPLE, "x"), ("GS1 & 4 Periods", "black", "line")]),
    (875, [("B07RP00140", TEAL, "star")]),
]:
    column_legend(mx, R3, entries, "DejaVu Sans", 11.8, 42, 3, 28.3)

# ---------- panel frames ----------
frame_line(7, 7, 7, 328)
frame_line(7, 328, W, 328)
frame_line(112, 7, 1086, 7, color="#8C8C8C", lw=2)
frame_line(10, 330, W, 330)
frame_line(10, 330, 10, 814)
frame_line(10, 814, W, 814)
frame_line(10, 814, 10, 1298)
frame_line(10, 1298, W, 1298)
frame_line(10, 1298, 10, H)

# ---------- watermark ----------
fig.text(572 / W, 1 - 790 / H, "Learning Legacy Document", rotation=46, rotation_mode="anchor", ha="center",
         va="center", family="Lato", weight="bold", fontsize=88, color="#7F7F7F", alpha=0.24, zorder=100)

fig.savefig("out.png", dpi=100, facecolor="white")
